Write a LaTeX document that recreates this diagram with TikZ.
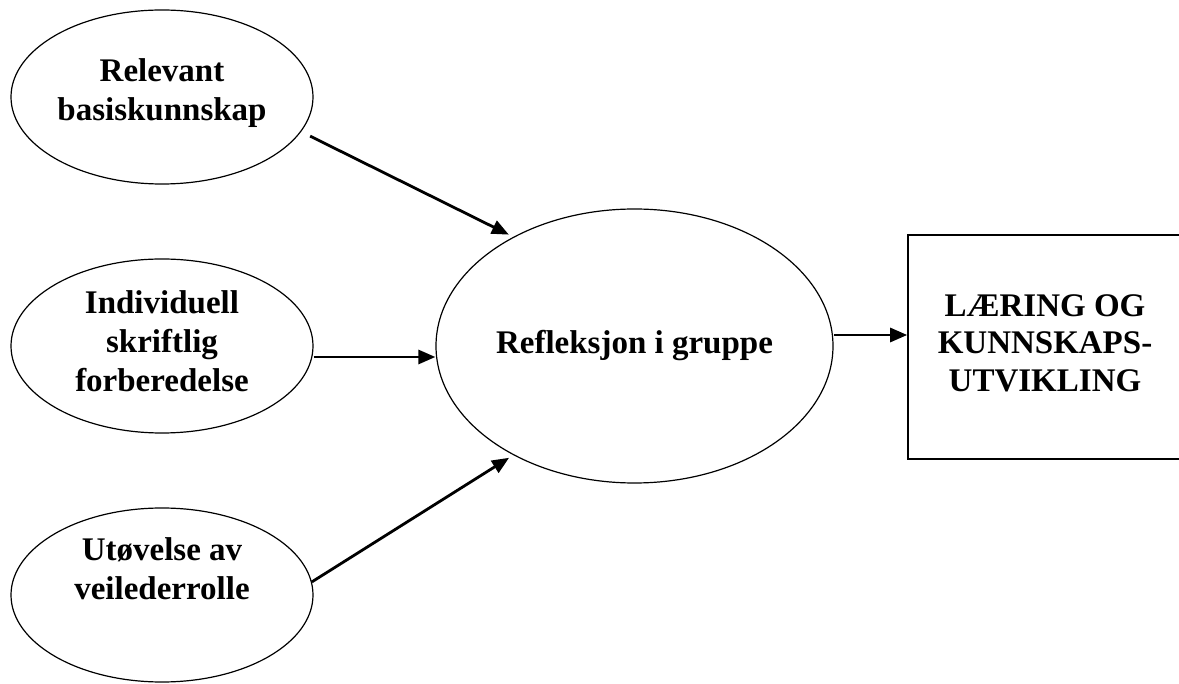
\documentclass[tikz,border=0pt]{standalone}
\usepackage{fontspec}
\setmainfont{Liberation Serif}
\usetikzlibrary{arrows.meta,shapes.geometric}
\begin{document}
\begin{tikzpicture}[x=1pt,y=-1pt,
  txt/.style={font=\fontsize{33}{39}\selectfont\bfseries, align=center},
  oval/.style={ellipse, draw, line width=1.2pt, minimum width=302pt, minimum height=174pt, inner sep=0pt, txt},
  bigoval/.style={oval, minimum width=397pt, minimum height=274pt},
  box/.style={rectangle, draw, line width=1.6pt, minimum width=274pt, minimum height=224pt, inner sep=0pt, font=\fontsize{33}{37.5}\selectfont\bfseries, align=center},
  arr/.style={-{Triangle[length=17pt,width=14pt]}, line width=2.8pt}]
\useasboundingbox (0,0) rectangle (1179,684);
\node[oval, text depth=14.5pt] (e1) at (162,97) {Relevant\\basiskunnskap};
\node[oval, text depth=10.5pt] (e2) at (162,346) {Individuell\\skriftlig\\forberedelse};
\node[oval, text depth=52pt] (e3) at (162,595) {Utøvelse av\\veilederrolle};
\node[bigoval] (c) at (634.5,346) {Refleksjon i gruppe};
\node[box, text depth=8pt] (r) at (1045,347) {LÆRING OG\\KUNNSKAPS-\\UTVIKLING};
\draw[arr, shorten <=10pt, shorten >=5pt] (e1.-14) -- (c.138);
\draw[arr] ([yshift=-11pt]e2.east) -- ([yshift=-11pt]e2.east -| c.west);
\draw[arr, shorten >=5pt] (e3.5) -- (c.-138);
\draw[arr] ([yshift=11pt]c.east) -- ([yshift=11pt]c.east -| r.west);
\end{tikzpicture}
\end{document}
